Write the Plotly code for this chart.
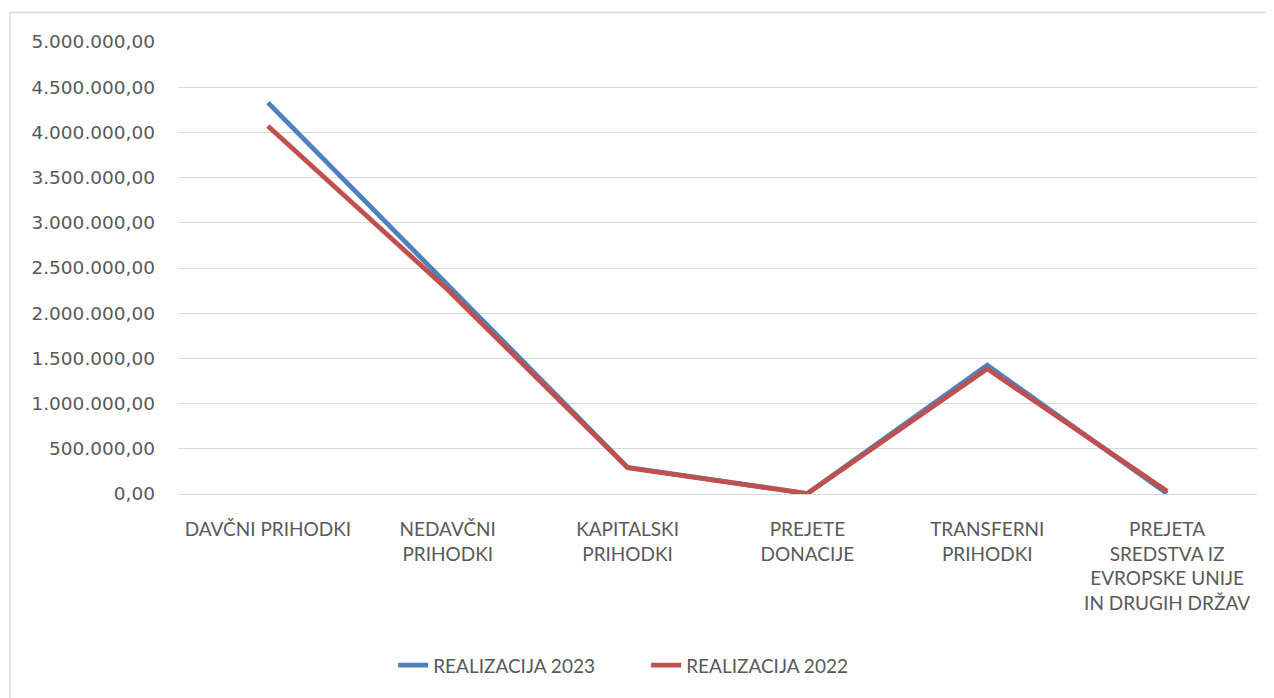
import plotly.graph_objects as go

categories = [
    "DAVČNI PRIHODKI",
    "NEDAVČNI<br>PRIHODKI",
    "KAPITALSKI<br>PRIHODKI",
    "PREJETE<br>DONACIJE",
    "TRANSFERNI<br>PRIHODKI",
    "PREJETA<br>SREDSTVA IZ<br>EVROPSKE UNIJE<br>IN DRUGIH DRŽAV",
]
realizacija_2023 = [4330000, 2310000, 295000, 5000, 1425000, 5000]
realizacija_2022 = [4070000, 2260000, 290000, 5000, 1385000, 30000]

# page body has an 8px margin, so the figure is 8px smaller than the window
W, H = 1266, 690
L, R, T, B = 170, 17, 34, 204

fig = go.Figure()
fig.add_trace(go.Scatter(
    x=categories, y=realizacija_2023, mode="lines", name="REALIZACIJA 2023",
    line=dict(color="#4F81BD", width=4.8),
))
fig.add_trace(go.Scatter(
    x=categories, y=realizacija_2022, mode="lines", name="REALIZACIJA 2022",
    line=dict(color="#C0504D", width=4.8),
))

# outer chart frame (cut off at right and bottom like the reference)
pw, ph = W - L - R, H - T - B
fig.add_shape(
    type="rect", xref="paper", yref="paper",
    x0=(2 - L) / pw, x1=(W + 10 - L) / pw,
    y0=(H - B - (H + 10)) / ph, y1=(H - B - 4.5) / ph,
    line=dict(color="#D9D9D9", width=1.5), fillcolor="rgba(0,0,0,0)", layer="below",
)

fig.update_layout(
    width=W, height=H,
    margin=dict(l=L, r=R, t=T, b=B),
    paper_bgcolor="white", plot_bgcolor="white",
    separators=",.",
    font=dict(family="Lato", color="#595959", size=19),
    showlegend=True,
    legend=dict(
        orientation="h", x=0.1994, xanchor="left", y=-0.379, yanchor="middle",
        font=dict(family="Lato", size=19, color="#595959"),
        traceorder="normal", entrywidth=208, entrywidthmode="pixels",
    ),
    xaxis=dict(
        range=[-0.5, 5.5], automargin=False,
        showgrid=False, showline=False, zeroline=False,
        tickfont=dict(family="Lato", size=19, color="#595959"),
        ticklabelstandoff=22,
    ),
    yaxis=dict(
        range=[0, 5000000], dtick=500000, tickformat=",.2f", automargin=False,
        showgrid=True, gridcolor="#D9D9D9", gridwidth=1.3,
        zeroline=True, zerolinecolor="#D9D9D9", zerolinewidth=1.3,
        showline=False,
        tickfont=dict(family="DejaVu Sans", size=18.5, color="#595959"),
        ticklabelstandoff=22,
    ),
)

fig.write_html("out.html")
